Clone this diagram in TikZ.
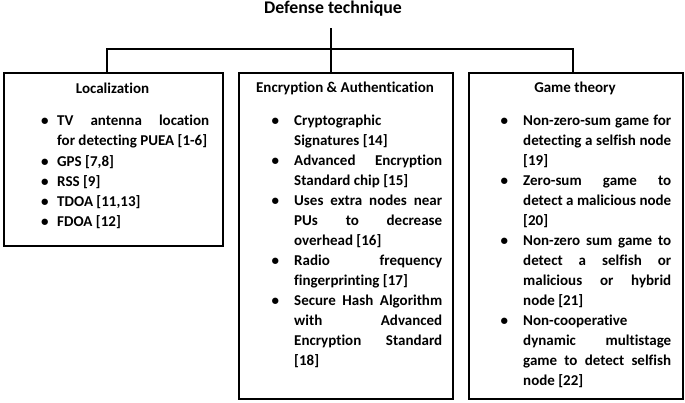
\documentclass[tikz,border=0pt]{standalone}
\usepackage{fontspec}
\setmainfont{Carlito}[Ligatures=NoCommon]
\newcommand\bitem[1][16pt]{\par\noindent\llap{\makebox[#1][l]{\textbullet}}\ignorespaces}
\newcommand\listsetup{\hyphenpenalty=10000 \exhyphenpenalty=10000 \tolerance=10000 \hbadness=10000\relax}
\tikzset{
  x=1pt, y=-1pt,
  box/.style={draw, line width=2pt, rectangle, inner sep=0pt, anchor=north west},
  conn/.style={line width=2pt},
  head/.style={font=\fontsize{15}{18}\selectfont\bfseries, inner sep=0pt},
  ttl/.style={font=\fontsize{17.8}{20}\selectfont\bfseries, inner sep=0pt},
  lst/.style={font=\fontsize{15}{20}\selectfont\bfseries,
              inner sep=0pt, anchor=north west, align=justify, text width=#1},
}
\begin{document}
\begin{tikzpicture}
\useasboundingbox (0,0) rectangle (685,402);
% title
\node[ttl] (title) at (333,9) {Defense technique};
% boxes
\node[box, minimum width=219pt, minimum height=173pt] (b1) at (3,72) {};
\node[box, minimum width=214pt, minimum height=326pt] (b2) at (238,72) {};
\node[box, minimum width=214pt, minimum height=326pt] (b3) at (468,72) {};
% connectors
\coordinate (top) at (331,28);
\coordinate (jl) at (107,49);
\coordinate (jr) at (573,49);
\draw[conn] (top) -- (top |- b2.north);
\draw[conn] (jl |- b1.north) -- (jl) -- (jr) -- (jr |- b3.north);
% headings
\node[head] (h1) at (112.5,88) {Localization};
\node[head] (h2) at (345,88) {Encryption \& Authentication};
\node[head] (h3) at (575,88) {Game theory};
% lists
\node[lst=152pt] (l1) at (57,105) {\listsetup\baselineskip=20.3pt
\bitem TV antenna location\linebreak{}for detecting PUEA [1-6]
\bitem GPS [7,8]
\bitem RSS [9]
\bitem TDOA [11,13]
\bitem FDOA [12]};
\node[lst=148pt] (l2) at (294,105) {\listsetup
\bitem[22.5pt] Cryptographic\linebreak{}Signatures [14]
\bitem[22.5pt] Advanced Encryption\linebreak{}Standard chip [15]
\bitem[22.5pt] Uses extra nodes near\linebreak{}PUs to decrease\linebreak{}overhead [16]
\bitem[22.5pt] Radio frequency\linebreak{}fingerprinting [17]
\bitem[22.5pt] Secure Hash Algorithm\linebreak{}with Advanced\linebreak{}Encryption Standard\linebreak{}[18]};
\node[lst=148pt] (l3) at (523,105) {\listsetup
\bitem[22.5pt] Non-zero-sum game for\linebreak{}detecting a selfish node\linebreak{}[19]
\bitem[22.5pt] Zero-sum game to\linebreak{}detect a malicious node\linebreak{}[20]
\bitem[22.5pt] Non-zero sum game to\linebreak{}detect a selfish or\linebreak{}malicious or hybrid\linebreak{}node [21]
\bitem[22.5pt] Non-cooperative\linebreak{}dynamic multistage\linebreak{}game to detect selfish\linebreak{}node [22]};
\end{tikzpicture}
\end{document}
